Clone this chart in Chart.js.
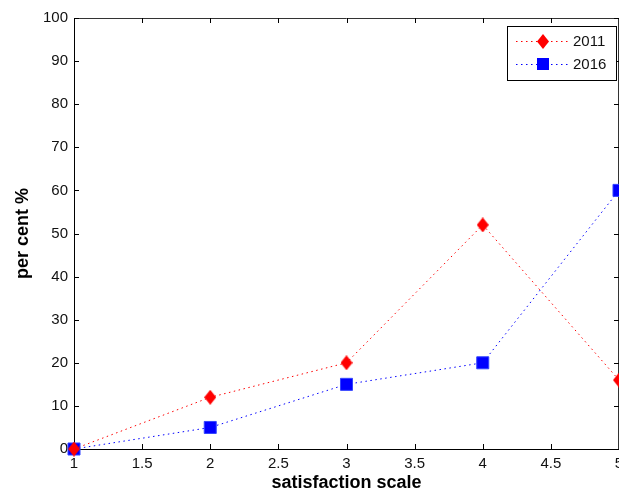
<!DOCTYPE html>
<html>
<head>
<meta charset="utf-8">
<script src="https://cdn.jsdelivr.net/npm/chart.js@4"></script>
<style>
  html, body { margin: 0; padding: 0; background: #fff; }
  #wrap { width: 619px; height: 495px; }
</style>
</head>
<body>
<div id="wrap"><canvas id="myChart" width="619" height="495"></canvas></div>
<script>
// satisfaction scale 1..5, share in per cent
const scalePoints = [1, 2, 3, 4, 5];
const values2011 = [0, 12, 20, 52, 16];
const values2016 = [0, 5, 15, 20, 60];
const seriesNames = ['2011', '2016'];
const xTicks = [1, 1.5, 2, 2.5, 3, 3.5, 4, 4.5, 5];
const yTicks = [0, 10, 20, 30, 40, 50, 60, 70, 80, 90, 100];

const red = '#ff0000';
const blue = '#0000ff';
const tickFont = "'Liberation Sans', Arial, sans-serif";

// taller diamond like the matlab marker
const diamond = document.createElement('canvas');
diamond.width = 12;
diamond.height = 15;
(function () {
	const c = diamond.getContext('2d');
	c.fillStyle = red;
	c.beginPath();
	c.moveTo(6, 0);
	c.lineTo(12, 7.5);
	c.lineTo(6, 15);
	c.lineTo(0, 7.5);
	c.closePath();
	c.fill();
})();

const toPoints = (vals) => scalePoints.map((x, i) => ({ x: x, y: vals[i] }));

// inward ticks, box on top/right, legend box
const matlabAxes = {
	id: 'matlabAxes',
	beforeDatasetsDraw(chart) {
		const { ctx, chartArea: a, scales } = chart;
		const len = 5;
		ctx.save();
		ctx.strokeStyle = '#333';
		ctx.lineWidth = 1;
		ctx.beginPath();
		ctx.moveTo(a.left, a.top + 0.5);
		ctx.lineTo(a.right, a.top + 0.5);
		ctx.moveTo(a.right - 0.5, a.top);
		ctx.lineTo(a.right - 0.5, a.bottom);
		ctx.stroke();
		ctx.strokeStyle = '#000';
		ctx.beginPath();
		xTicks.forEach(v => {
			const px = Math.round(scales.x.getPixelForValue(v)) + 0.5;
			ctx.moveTo(px, a.bottom);
			ctx.lineTo(px, a.bottom - len);
			ctx.moveTo(px, a.top);
			ctx.lineTo(px, a.top + len);
		});
		yTicks.forEach(v => {
			const py = Math.round(scales.y.getPixelForValue(v)) + 0.5;
			ctx.moveTo(a.left, py);
			ctx.lineTo(a.left + len, py);
			ctx.moveTo(a.right, py);
			ctx.lineTo(a.right - len, py);
		});
		ctx.stroke();
		ctx.restore();
	},
	afterDraw(chart) {
		const { ctx } = chart;
		const bx = 507, by = 26, bw = 109, bh = 54;
		ctx.save();
		ctx.fillStyle = '#fff';
		ctx.fillRect(bx, by, bw, bh);
		ctx.strokeStyle = '#000';
		ctx.lineWidth = 1;
		ctx.strokeRect(bx + 0.5, by + 0.5, bw, bh);
		chart.data.datasets.forEach((ds, i) => {
			const y = 41 + i * 23;
			ctx.strokeStyle = ds.borderColor;
			ctx.setLineDash(ds.borderDash);
			ctx.beginPath();
			ctx.moveTo(516, y + 0.5);
			ctx.lineTo(569, y + 0.5);
			ctx.stroke();
			ctx.setLineDash([]);
			if (ds.pointStyle === 'rect') {
				ctx.fillStyle = ds.backgroundColor;
				ctx.fillRect(543 - 6, y - 6, 12, 12);
			} else {
				ctx.drawImage(ds.pointStyle, 543 - 6, y - 7);
			}
			ctx.fillStyle = '#111';
			ctx.font = '15px ' + tickFont;
			ctx.textBaseline = 'middle';
			ctx.textAlign = 'left';
			ctx.fillText(ds.label, 573, y + 1);
		});
		ctx.restore();
	}
};

new Chart(document.getElementById('myChart').getContext('2d'), {
	type: 'line',
	data: {
		datasets: [
			{
				label: seriesNames[0],
				data: toPoints(values2011),
				borderColor: red,
				backgroundColor: red,
				borderWidth: 1,
				borderDash: [1.5, 3.5],
				pointStyle: diamond,
				pointRadius: 6,
				pointHoverRadius: 6,
				tension: 0,
				clip: false
			},
			{
				label: seriesNames[1],
				data: toPoints(values2016),
				borderColor: blue,
				backgroundColor: blue,
				borderWidth: 1,
				borderDash: [1.5, 3.5],
				pointStyle: 'rect',
				pointRadius: 8.5,
				pointHoverRadius: 8.5,
				pointBorderColor: '#3344ff',
				pointBorderWidth: 1,
				tension: 0,
				clip: false
			}
		]
	},
	options: {
		responsive: false,
		animation: false,
		layout: { autoPadding: false, padding: { top: 18, right: 0, left: 0, bottom: 0 } },
		plugins: {
			legend: { display: false },
			tooltip: { enabled: false }
		},
		scales: {
			x: {
				type: 'linear',
				min: 1,
				max: 5,
				afterBuildTicks: (scale) => { scale.ticks = xTicks.map(v => ({ value: v })); },
				afterFit: (scale) => { scale.height = 46; scale.paddingRight = 0; },
				grid: { display: false, drawTicks: false },
				border: { display: true, color: '#000', width: 1 },
				ticks: {
					padding: 6,
					color: '#111',
					font: { family: tickFont, size: 15 },
					maxRotation: 0,
					autoSkip: false,
					callback: (v) => String(v)
				},
				title: {
					display: true,
					text: 'satisfaction scale',
					color: '#000',
					font: { family: tickFont, size: 18, weight: 'bold', lineHeight: 1 },
					padding: { top: 0, bottom: 3 }
				}
			},
			y: {
				min: 0,
				max: 100,
				afterBuildTicks: (scale) => { scale.ticks = yTicks.map(v => ({ value: v })); },
				afterFit: (scale) => { scale.width = 74; },
				grid: { display: false, drawTicks: false },
				border: { display: true, color: '#000', width: 1 },
				ticks: {
					padding: 6,
					color: '#111',
					font: { family: tickFont, size: 15 },
					autoSkip: false
				},
				title: {
					display: true,
					text: 'per cent %',
					color: '#000',
					font: { family: tickFont, size: 18, weight: 'bold', lineHeight: 1 },
					padding: { top: 14, bottom: 0 }
				}
			}
		}
	},
	plugins: [matlabAxes]
});
</script>
</body>
</html>
